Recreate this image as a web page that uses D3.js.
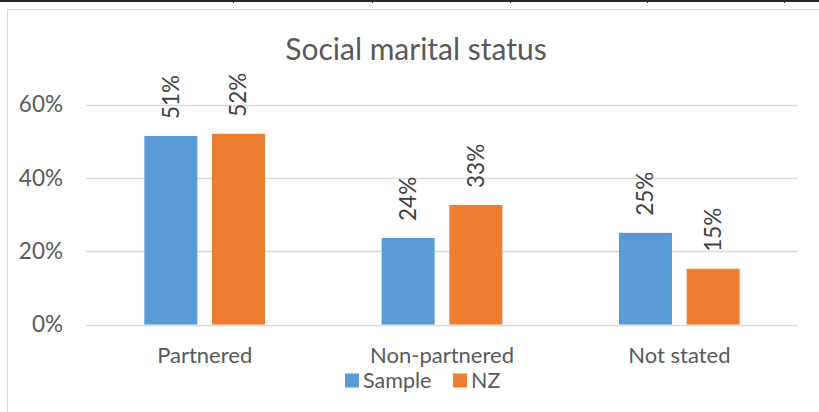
<!DOCTYPE html>
<html>
<head>
<meta charset="utf-8">
<script src="https://cdn.jsdelivr.net/npm/d3@7/dist/d3.min.js"></script>
<style>
  html, body { margin: 0; padding: 0; background: #fff; }
  svg { display: block; }
  text { font-family: "Lato", "Open Sans", sans-serif; }
</style>
</head>
<body>
<svg id="chart" width="819" height="412"></svg>
<script>
const categories = ["Partnered", "Non-partnered", "Not stated"];
const seriesNames = ["Sample", "NZ"];
const sampleValues = [0.514, 0.236, 0.250];
const nzValues = [0.520, 0.326, 0.152];
const yTicks = [0, 0.2, 0.4, 0.6];
const titleText = "Social marital status";
const colors = { Sample: "#5B9BD5", NZ: "#ED7D31" };

const data = categories.map((c, i) => ({
  category: c,
  values: [
    { series: "Sample", value: sampleValues[i] },
    { series: "NZ", value: nzValues[i] }
  ]
}));

const FONT = "Lato, 'Open Sans', sans-serif";
const svg = d3.select("#chart");

// page decoration: table border at top
svg.append("rect").attr("x", 0).attr("y", 0).attr("width", 819).attr("height", 2).attr("fill", "#262626");
[233, 372, 510, 647, 784].forEach(x => {
  svg.append("rect").attr("x", x).attr("y", 0).attr("width", 1).attr("height", 3).attr("fill", "#262626");
});

// chart area border
svg.append("rect")
  .attr("x", 7.5).attr("y", 9.5)
  .attr("width", 900).attr("height", 500)
  .attr("fill", "#fff").attr("stroke", "#d9d9d9").attr("stroke-width", 1);

const x0 = d3.scaleBand().domain(categories).range([86, 798]).padding(0);
const x1 = d3.scaleBand().domain(seriesNames).range([0, x0.bandwidth()])
  .paddingInner(0.217).paddingOuter(0.861);
const y = d3.scaleLinear().domain([0, 0.6]).range([324.5, 104.5]);

// gridlines
svg.append("g").selectAll("line").data(yTicks).join("line")
  .attr("x1", 86).attr("x2", 798)
  .attr("y1", d => Math.round(y(d)) + 0.5).attr("y2", d => Math.round(y(d)) + 0.5)
  .attr("stroke", "#d9d9d9").attr("stroke-width", 1.3);

// y axis
const yAxis = d3.axisLeft(y).tickValues(yTicks).tickFormat(d3.format(".0%")).tickSize(0).tickPadding(0);
const gy = svg.append("g").attr("transform", "translate(63,0)").call(yAxis);
gy.select(".domain").remove();
gy.selectAll("text").attr("fill", "#595959").attr("font-size", 22.5).attr("font-family", FONT);

// x axis labels
const xAxis = d3.axisBottom(x0).tickSize(0).tickPadding(0);
const gx = svg.append("g").attr("transform", "translate(0,0)").call(xAxis);
gx.select(".domain").remove();
gx.selectAll("text").attr("fill", "#595959").attr("font-size", 22).attr("y", 362.5).attr("dy", 0).attr("font-family", FONT);

// bars
const groups = svg.append("g").selectAll("g").data(data).join("g")
  .attr("transform", d => `translate(${x0(d.category)},0)`);

groups.selectAll("rect").data(d => d.values).join("rect")
  .attr("x", d => x1(d.series))
  .attr("y", d => y(d.value))
  .attr("width", x1.bandwidth())
  .attr("height", d => y(0) - y(d.value))
  .attr("fill", d => colors[d.series]);

// data labels
groups.selectAll("text").data(d => d.values).join("text")
  .attr("transform", d => `translate(${x1(d.series) + x1.bandwidth() / 2},${y(d.value) - 17}) rotate(-90)`)
  .attr("dy", "0.35em")
  .attr("text-anchor", "start")
  .attr("fill", "#404040")
  .attr("font-size", 22.5)
  .text(d => d3.format(".0%")(d.value));

// title
svg.append("text")
  .attr("x", 416).attr("y", 59.5)
  .attr("text-anchor", "middle")
  .attr("fill", "#595959")
  .attr("font-size", 30)
  .text(titleText);

// legend
const legend = svg.append("g");
const legendX = [345, 453];
seriesNames.forEach((s, i) => {
  legend.append("rect").attr("x", legendX[i]).attr("y", 373.5).attr("width", 14).attr("height", 14).attr("fill", colors[s]);
  legend.append("text").attr("x", legendX[i] + 18).attr("y", 387.5)
    .attr("fill", "#595959").attr("font-size", 21.5).text(s);
});
</script>
</body>
</html>
